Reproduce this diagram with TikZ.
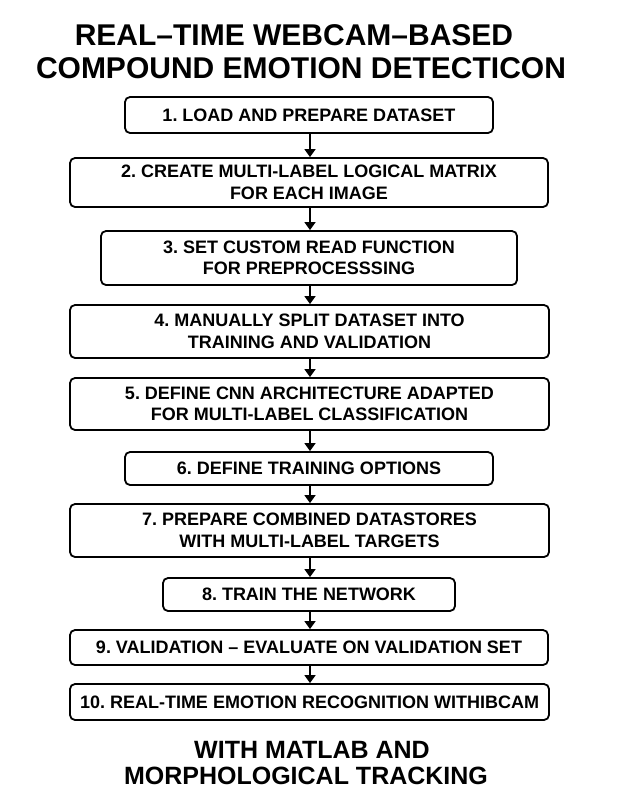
\documentclass[tikz,border=0pt]{standalone}
\usepackage{fontspec}
\setmainfont{Liberation Sans}
\usetikzlibrary{arrows.meta}
\frenchspacing

\tikzset{
  stepbox/.style={draw, line width=1.8pt, rounded corners=5pt, inner sep=0pt,
    align=center, font=\fontsize{18}{21.5}\selectfont\bfseries},
  flow/.style={line width=1.6pt, -{Triangle[width=11pt,length=8pt]}},
  headline/.style={font=\fontsize{30}{36}\selectfont\bfseries},
  footline/.style={font=\fontsize{25}{30}\selectfont\bfseries},
}

\begin{document}
\begin{tikzpicture}[x=1pt,y=-1pt]
\useasboundingbox (0,0) rectangle (619,803);
\fill[white] (0,0) rectangle (619,803);
% title
\node[headline] (t1) at (294,35) {REAL–TIME WEBCAM–BASED};
\node[headline] (t2) at (301,68) {COMPOUND EMOTION DETECTICON};
% steps
\node[stepbox, minimum width=368, minimum height=36] (s1) at (309,115) {1. LOAD AND PREPARE DATASET};
\node[stepbox, minimum width=478, minimum height=49] (s2) at (309,182.5) {2. CREATE MULTI-LABEL LOGICAL MATRIX\\FOR EACH IMAGE};
\node[stepbox, minimum width=416, minimum height=54] (s3) at (309,258) {3. SET CUSTOM READ FUNCTION\\FOR PREPROCESSSING};
\node[stepbox, minimum width=479, minimum height=53] (s4) at (309.5,331.5) {4. MANUALLY SPLIT DATASET INTO\\TRAINING AND VALIDATION};
\node[stepbox, minimum width=479, minimum height=52] (s5) at (309.5,404) {5. DEFINE CNN ARCHITECTURE ADAPTED\\FOR MULTI-LABEL CLASSIFICATION};
\node[stepbox, minimum width=368, minimum height=33] (s6) at (309,468.5) {6. DEFINE TRAINING OPTIONS};
\node[stepbox, minimum width=479, minimum height=53] (s7) at (309.5,530.5) {7. PREPARE COMBINED DATASTORES\\WITH MULTI-LABEL TARGETS};
\node[stepbox, minimum width=292, minimum height=33] (s8) at (309,594.5) {8. TRAIN THE NETWORK};
\node[stepbox, minimum width=478, minimum height=35] (s9) at (309,647.5) {9. VALIDATION – EVALUATE ON VALIDATION SET};
\node[stepbox, minimum width=479, minimum height=36] (s10) at (309.5,702) {10. REAL-TIME EMOTION RECOGNITION WITHIBCAM};
% arrows
\foreach \a/\b in {s1/s2,s2/s3,s3/s4,s4/s5,s5/s6,s6/s7,s7/s8,s8/s9,s9/s10}
  \draw[flow] (\a.south -| 310,0) -- (\b.north -| 310,0);
% footer
\node[footline] (f1) at (312,750) {WITH MATLAB AND};
\node[footline] (f2) at (306,776) {MORPHOLOGICAL TRACKING};
\end{tikzpicture}
\end{document}
